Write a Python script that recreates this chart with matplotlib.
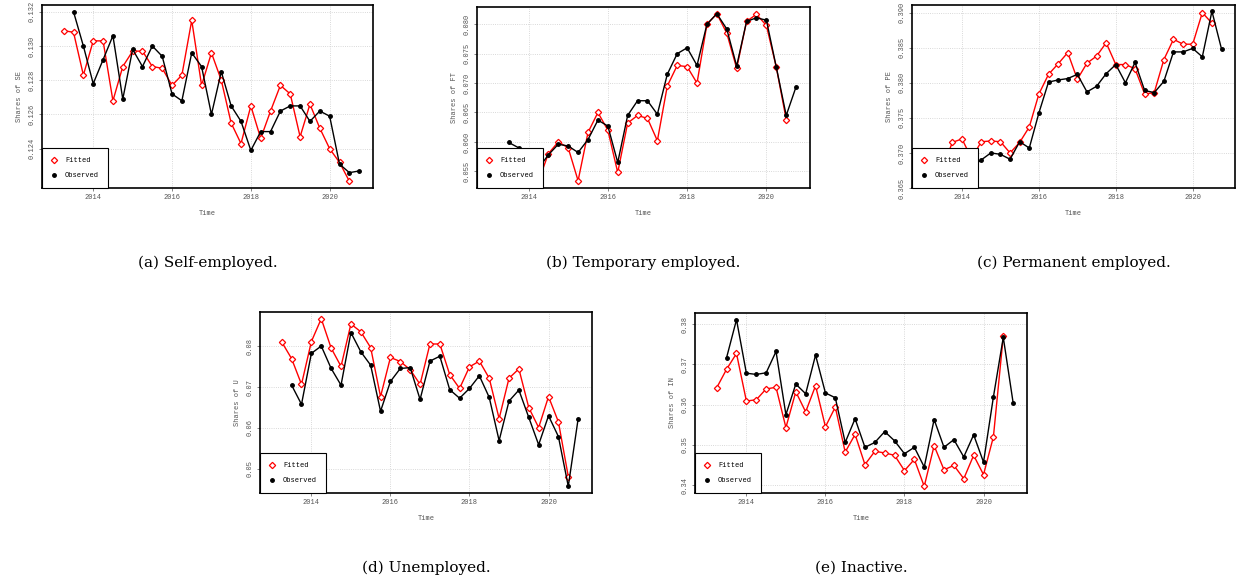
import numpy as np
import matplotlib.pyplot as plt
from matplotlib.lines import Line2D

t_fit = np.arange(30) * 0.25 + 2013.25
t_obs = np.arange(30) * 0.25 + 2013.5

se_fit = [0.1309, 0.1308, 0.1283, 0.1303, 0.1303, 0.1268, 0.1288, 0.1297, 0.1297, 0.1288,
          0.1287, 0.1277, 0.1283, 0.1315, 0.1277, 0.1296, 0.1280, 0.1255, 0.1243, 0.1265,
          0.1246, 0.1262, 0.1277, 0.1272, 0.1247, 0.1266, 0.1252, 0.1240, 0.1232, 0.1221]
se_obs = [0.1320, 0.1300, 0.1278, 0.1292, 0.1306, 0.1269, 0.1298, 0.1288, 0.1300, 0.1294,
          0.1272, 0.1268, 0.1296, 0.1288, 0.1260, 0.1285, 0.1265, 0.1256, 0.1239, 0.1250,
          0.1250, 0.1262, 0.1265, 0.1265, 0.1256, 0.1262, 0.1259, 0.1231, 0.1226, 0.1227]
ft_fit = [0.0570, 0.0560, 0.0550, 0.0540, 0.0533, 0.0580, 0.0600, 0.0590, 0.0534, 0.0616,
          0.0650, 0.0620, 0.0548, 0.0632, 0.0645, 0.0640, 0.0602, 0.0695, 0.0730, 0.0728,
          0.0700, 0.0800, 0.0818, 0.0785, 0.0725, 0.0805, 0.0817, 0.0798, 0.0727, 0.0638]
ft_obs = [0.0599, 0.0590, 0.0575, 0.0555, 0.0578, 0.0596, 0.0593, 0.0582, 0.0604, 0.0637,
          0.0627, 0.0565, 0.0645, 0.0670, 0.0670, 0.0647, 0.0715, 0.0750, 0.0760, 0.0730,
          0.0800, 0.0818, 0.0792, 0.0729, 0.0805, 0.0811, 0.0807, 0.0727, 0.0645, 0.0694]
pe_fit = [0.3693, 0.3680, 0.3715, 0.3720, 0.3692, 0.3716, 0.3717, 0.3716, 0.3700, 0.3715,
          0.3737, 0.3784, 0.3812, 0.3827, 0.3843, 0.3805, 0.3828, 0.3838, 0.3857, 0.3826,
          0.3826, 0.3820, 0.3784, 0.3786, 0.3833, 0.3862, 0.3855, 0.3855, 0.3900, 0.3885]
pe_obs = [0.3680, 0.3680, 0.3695, 0.3680, 0.3690, 0.3700, 0.3698, 0.3691, 0.3716, 0.3707,
          0.3757, 0.3801, 0.3804, 0.3806, 0.3812, 0.3787, 0.3795, 0.3813, 0.3826, 0.3800,
          0.3829, 0.3789, 0.3786, 0.3802, 0.3844, 0.3844, 0.3849, 0.3837, 0.3902, 0.3848]
u_fit = [0.0811, 0.0770, 0.0707, 0.0812, 0.0868, 0.0796, 0.0751, 0.0855, 0.0836, 0.0797,
         0.0677, 0.0773, 0.0763, 0.0743, 0.0707, 0.0806, 0.0806, 0.0731, 0.0697, 0.0750,
         0.0764, 0.0722, 0.0623, 0.0722, 0.0745, 0.0650, 0.0601, 0.0677, 0.0615, 0.0481]
u_obs = [0.0705, 0.0658, 0.0783, 0.0801, 0.0746, 0.0705, 0.0834, 0.0787, 0.0754, 0.0641,
         0.0714, 0.0746, 0.0748, 0.0670, 0.0764, 0.0776, 0.0694, 0.0673, 0.0697, 0.0728,
         0.0675, 0.0569, 0.0666, 0.0693, 0.0626, 0.0559, 0.0630, 0.0579, 0.0457, 0.0623]
in_fit = [0.3642, 0.3688, 0.3727, 0.3609, 0.3612, 0.3639, 0.3643, 0.3543, 0.3632, 0.3582,
          0.3647, 0.3545, 0.3594, 0.3482, 0.3526, 0.3451, 0.3484, 0.3480, 0.3474, 0.3436,
          0.3464, 0.3397, 0.3498, 0.3438, 0.3449, 0.3416, 0.3474, 0.3426, 0.3520, 0.3770]
in_obs = [0.3717, 0.3811, 0.3678, 0.3675, 0.3679, 0.3732, 0.3575, 0.3651, 0.3627, 0.3723,
          0.3629, 0.3617, 0.3506, 0.3565, 0.3494, 0.3506, 0.3533, 0.3510, 0.3478, 0.3494,
          0.3445, 0.3563, 0.3494, 0.3513, 0.3470, 0.3525, 0.3457, 0.3619, 0.3767, 0.3604]

panels = [
    ('SE', se_fit, se_obs, [0.124, 0.126, 0.128, 0.130, 0.132], '{:.3f}', '(a) Self-employed.'),
    ('FT', ft_fit, ft_obs, [0.055, 0.060, 0.065, 0.070, 0.075, 0.080], '{:.3f}', '(b) Temporary employed.'),
    ('PE', pe_fit, pe_obs, [0.365, 0.370, 0.375, 0.380, 0.385, 0.390], '{:.3f}', '(c) Permanent employed.'),
    ('U', u_fit, u_obs, [0.05, 0.06, 0.07, 0.08], '{:.2f}', '(d) Unemployed.'),
    ('IN', in_fit, in_obs, [0.34, 0.35, 0.36, 0.37, 0.38], '{:.2f}', '(e) Inactive.'),
]

W, H = 1248, 583
# axes boxes in pixels: left, top, right, bottom
boxes = [(42, 5, 373, 188), (477, 7, 810, 188), (912, 5, 1235, 188),
         (260, 312, 592, 493), (695, 313, 1027, 493)]

fig = plt.figure(figsize=(W / 100, H / 100), dpi=100)
mono = 'Liberation Mono'

handles = [Line2D([], [], ls='none', marker='D', ms=3.2, mfc='white', mec='red', mew=0.9),
           Line2D([], [], ls='none', marker='o', ms=2.5, color='black')]

for (name, fit, obs, yt, fmt, cap), (l, t, r, b) in zip(panels, boxes):
    ax = fig.add_axes([l / W, 1 - b / H, (r - l) / W, (b - t) / H])
    ax.grid(True, color='#cccccc', linestyle=':', linewidth=0.6)
    ax.set_axisbelow(True)
    ax.plot(t_fit, fit, color='red', lw=1.0, marker='D', ms=3.2, mfc='white',
            mec='red', mew=0.9)
    ax.plot(t_obs, obs, color='black', lw=1.0, marker='o', ms=2.5)
    allv = np.array(fit + obs)
    lo, hi = allv.min(), allv.max()
    pad = 0.04 * (hi - lo)
    ax.set_ylim(lo - pad, hi + pad)
    ax.set_xlim(2012.7, 2021.1)
    ax.set_xticks([2014, 2016, 2018, 2020])
    ax.set_yticks(yt)
    ax.set_yticklabels([fmt.format(v) for v in yt], rotation=90, va='center')
    ax.tick_params(labelsize=5, length=2.5, width=0.5, colors='#555555', pad=2)
    for lab in ax.get_xticklabels() + ax.get_yticklabels():
        lab.set_family(mono)
    for s in ax.spines.values():
        s.set_linewidth(1.2)
    ax.set_xlabel('Time', fontsize=5, family=mono, color='#555555', labelpad=6)
    ax.set_ylabel('Shares of ' + name, fontsize=5, family=mono, color='#555555', labelpad=4)
    leg = ax.legend(handles, ['Fitted', 'Observed'], loc='lower left', borderaxespad=0,
                    fancybox=False, edgecolor='black', framealpha=1,
                    prop={'family': mono, 'size': 5}, borderpad=1.3,
                    handlelength=0.8, labelspacing=1.1, handletextpad=1.2)
    leg.get_frame().set_linewidth(0.8)
    fig.text((l + r) / 2 / W, 1 - (b + 75) / H, cap, ha='center', va='center',
             fontsize=11, family='DejaVu Serif')

fig.savefig('out.png', dpi=100)
